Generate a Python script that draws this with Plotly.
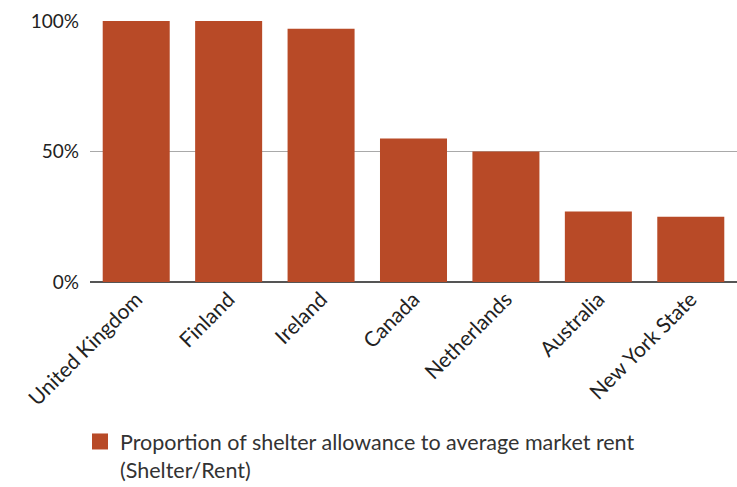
import plotly.graph_objects as go

countries = ["United Kingdom", "Finland", "Ireland", "Canada",
             "Netherlands", "Australia", "New York State"]
shelter_to_rent = [100, 100, 97, 55, 50, 27, 25]
y_ticks = [0, 50, 100]
y_tick_text = ["0%", "50%", "100%"]
series_name = "Proportion of shelter allowance to average market rent<br>(Shelter/Rent)"

BAR_COLOR = "#b84a27"
FONT = "Lato"

PLOT_L, PLOT_R, PLOT_T, PLOT_B = 90, 737, 21, 282

fig = go.Figure()
fig.add_trace(go.Bar(
    x=countries, y=shelter_to_rent,
    marker=dict(color=BAR_COLOR, line=dict(width=0)),
    showlegend=False,
))
# legend entry with a larger square swatch
fig.add_trace(go.Scatter(
    x=[None], y=[None], mode="markers", name=series_name,
    marker=dict(symbol="square", size=16, color=BAR_COLOR),
    showlegend=True,
))

fig.update_layout(
    width=737, height=487,
    margin=dict(l=PLOT_L, r=737 - PLOT_R, t=PLOT_T, b=487 - PLOT_B, autoexpand=False),
    paper_bgcolor="white", plot_bgcolor="white",
    font=dict(family=FONT, size=19, color="#222"),
    bargap=0.275,
    legend=dict(
        x=(80 - PLOT_L) / (PLOT_R - PLOT_L),
        y=(PLOT_B - 421) / (PLOT_B - PLOT_T),
        xanchor="left", yanchor="top",
        font=dict(family=FONT, size=21.5, color="#333"),
        itemsizing="trace", valign="top",
        bgcolor="rgba(0,0,0,0)",
    ),
    xaxis=dict(
        tickangle=-45, showgrid=False, zeroline=False,
        showline=False, ticks="", automargin=False,
        tickfont=dict(family=FONT, size=21, color="#222"),
    ),
    yaxis=dict(
        range=[0, 100], tickvals=y_ticks, ticktext=y_tick_text,
        showgrid=True, gridcolor="#a9a9a9", gridwidth=1,
        zeroline=True, zerolinecolor="#555", zerolinewidth=2,
        showline=False, ticks="", ticklen=0, automargin=False,
        ticklabelstandoff=10,
        tickfont=dict(family=FONT, size=19, color="#222"),
        fixedrange=True,
    ),
)

fig.write_html("out.html")
